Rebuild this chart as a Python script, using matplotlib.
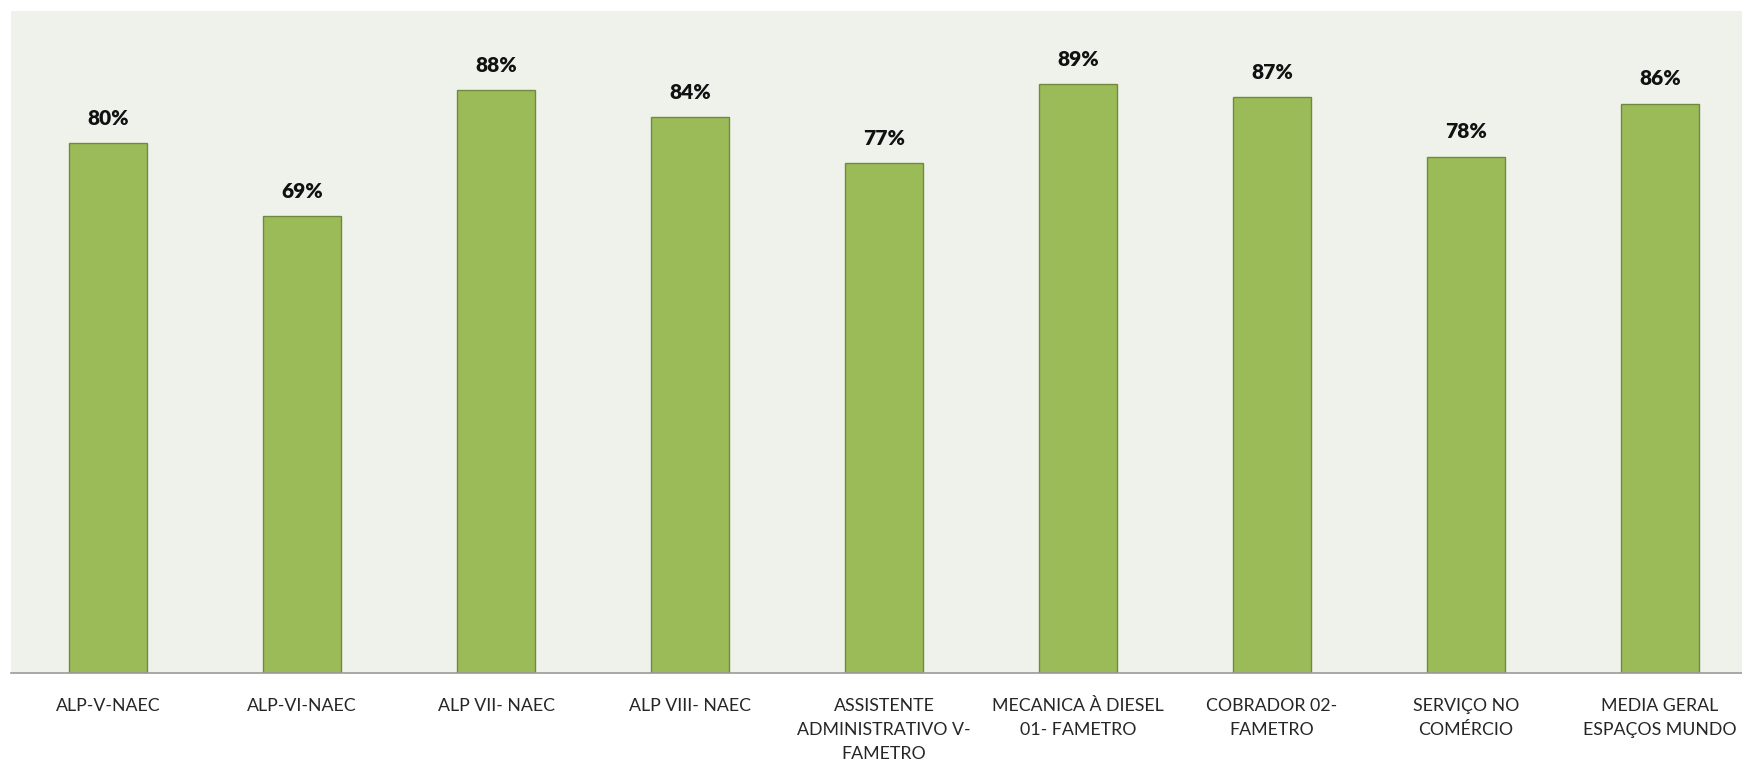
import matplotlib

matplotlib.use('Agg')

import matplotlib.pyplot as plt

categories = [
    'ALP-V-NAEC',
    'ALP-VI-NAEC',
    'ALP VII- NAEC',
    'ALP VIII- NAEC',
    'ASSISTENTE\nADMINISTRATIVO V-\nFAMETRO',
    'MECANICA À DIESEL\n01- FAMETRO',
    'COBRADOR 02-\nFAMETRO',
    'SERVIÇO NO\nCOMÉRCIO',
    'MEDIA GERAL\nESPAÇOS MUNDO',
]
values = [0.80, 0.69, 0.88, 0.84, 0.77, 0.89, 0.87, 0.78, 0.86]

plt.rcParams['font.family'] = ['Lato', 'DejaVu Sans']

fig = plt.figure(figsize=(17.42, 7.63), dpi=100)
# axes run slightly past the right edge, like the original crop
ax = fig.add_axes([11 / 1742, 1 - 673 / 763, 1746 / 1742, 662 / 763])
ax.set_facecolor('#EFF2EA')

x = range(len(categories))
bars = ax.bar(x, values, width=0.4, color='#9BBB59', edgecolor='#71893F', linewidth=1)

for b, v in zip(bars, values):
    ax.annotate(f'{v:.0%}', (b.get_x() + b.get_width() / 2, v),
                xytext=(0, 11), textcoords='offset points',
                ha='center', va='bottom', fontsize=15, fontweight='heavy', color='#111111')

ax.set_xlim(-0.5, len(categories) - 0.5)
ax.set_ylim(0, 1.0)
ax.set_yticks([])
ax.set_xticks(list(x))
ax.set_xticklabels(categories, fontsize=12.8, color='#262626', linespacing=1.6)
ax.tick_params(axis='x', length=0, pad=18)

for s in ['top', 'right', 'left']:
    ax.spines[s].set_visible(False)
ax.spines['bottom'].set_color('#9A9A9A')
ax.spines['bottom'].set_linewidth(1.2)

fig.savefig('out.png', dpi=100, facecolor='white')
